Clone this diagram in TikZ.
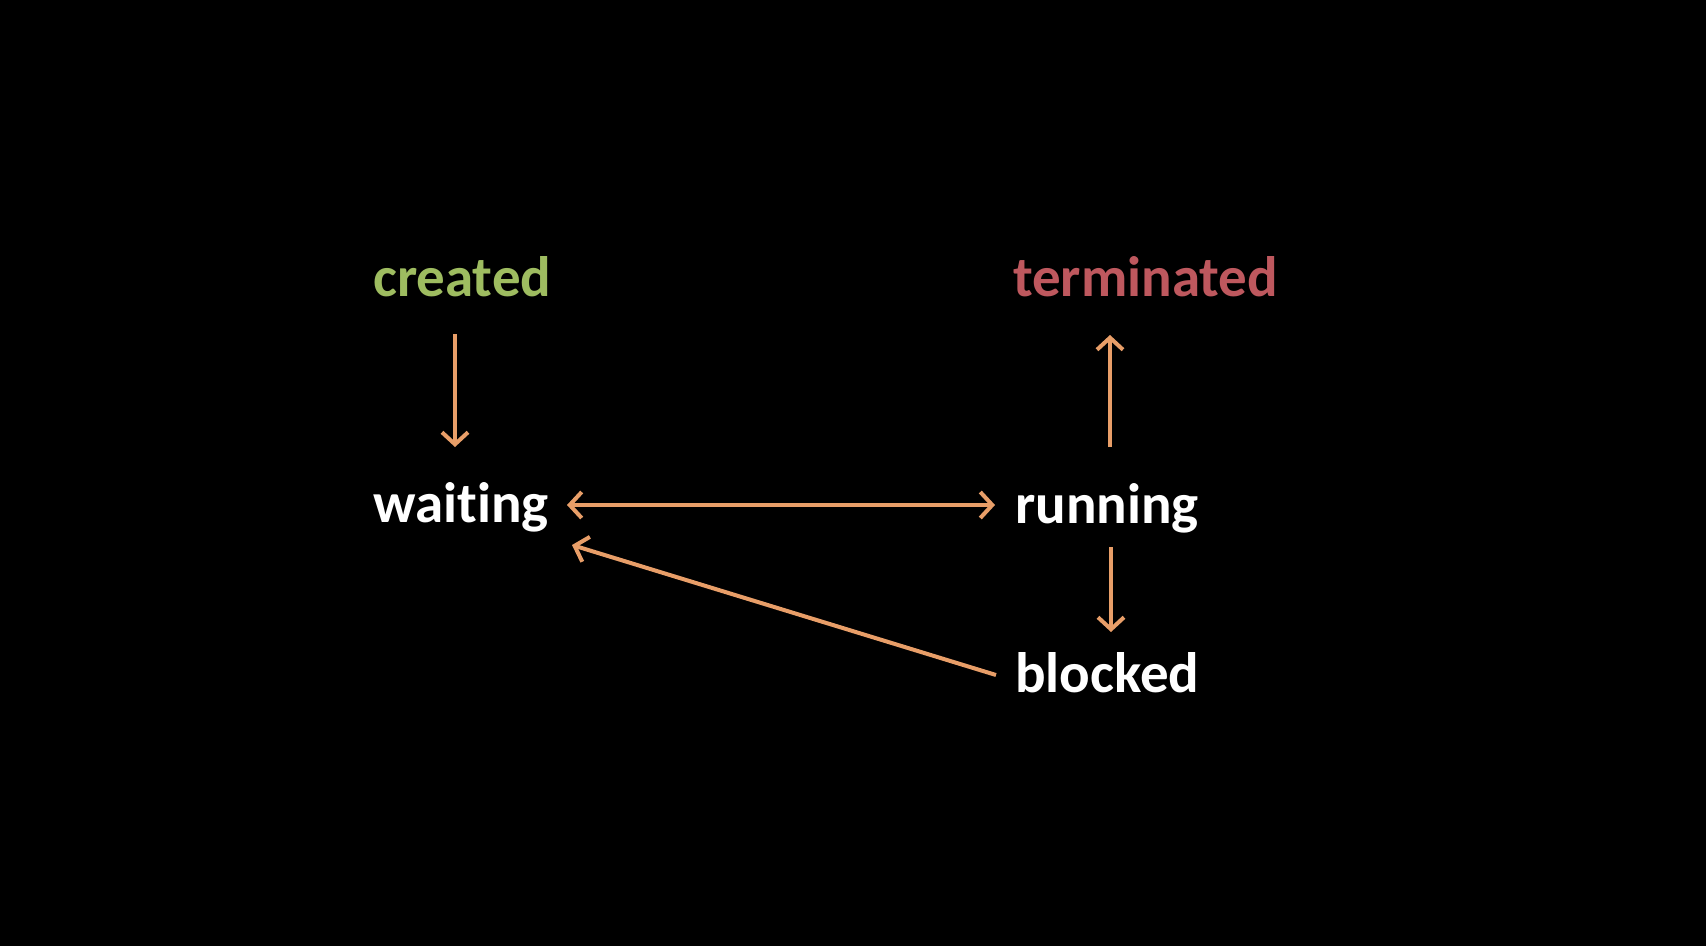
\documentclass[tikz,border=0pt]{standalone}
\usepackage{fontspec}
\setmainfont{Carlito}[Ligatures={NoCommon}]
\usetikzlibrary{arrows.meta}
\definecolor{cgreen}{RGB}{158,188,96}
\definecolor{cred}{RGB}{190,88,94}
\definecolor{corange}{RGB}{232,158,104}
\tikzset{
  state/.style={anchor=base west, inner sep=0pt, font=\fontsize{57}{60}\selectfont\bfseries},
  conn/.style={draw=corange, line width=4pt, -{Straight Barb[length=12pt,width=26pt,line width=4pt]}},
  conn2/.style={draw=corange, line width=4pt, {Straight Barb[length=12pt,width=26pt,line width=4pt]}-{Straight Barb[length=12pt,width=26pt,line width=4pt]}}
}
\begin{document}
\begin{tikzpicture}[x=1pt,y=-1pt]
\fill[black] (0,0) rectangle (1706,946);
\useasboundingbox (0,0) rectangle (1706,946);
\node[state, text=cgreen] (created) at (373,296) {created};
\node[state, text=cred] (terminated) at (1013,296) {terminated};
\node[state, text=white] (waiting) at (373,522) {waiting};
\node[state, text=white] (running) at (1015,523) {running};
\node[state, text=white] (blocked) at (1015,692) {blocked};
\draw[conn] ([shift={(82,38)}]created.base west) -- ([shift={(82,-75)}]waiting.base west);
\draw[conn2] ([shift={(194,-17)}]waiting.base west) -- ([shift={(-20,-18)}]running.base west);
\draw[conn] ([shift={(95,-76)}]running.base west) -- ([shift={(97,39)}]terminated.base west);
\draw[conn] ([shift={(96,24)}]running.base west) -- ([shift={(96,-60)}]blocked.base west);
\draw[conn] ([shift={(-19,-17)}]blocked.base west) -- ([shift={(199,23)}]waiting.base west);
\end{tikzpicture}
\end{document}
